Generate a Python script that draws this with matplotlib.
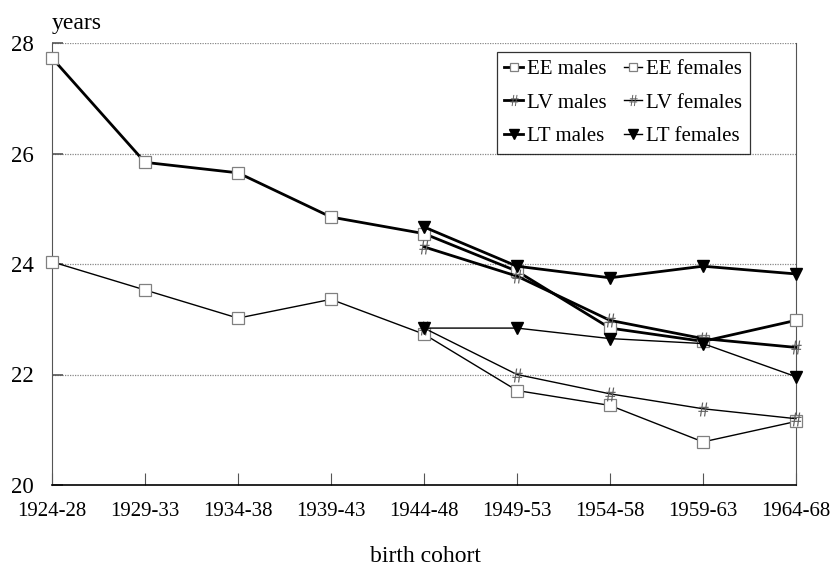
import matplotlib
matplotlib.use("Agg")
import matplotlib.pyplot as plt

# ===== data =====
cohorts = ["1924-28", "1929-33", "1934-38", "1939-43", "1944-48",
           "1949-53", "1954-58", "1959-63", "1964-68"]

ee_males = [27.73, 25.84, 25.65, 24.85, 24.55, 23.87, 22.84, 22.60, 22.98]
ee_females = [24.04, 23.53, 23.02, 23.36, 22.73, 21.71, 21.44, 20.78, 21.15]

# LV / LT only from 1944-48 on
lv_males = [24.31, 23.78, 22.98, 22.65, 22.49]
lv_females = [22.84, 22.00, 21.65, 21.38, 21.20]
lt_males = [24.67, 23.96, 23.75, 23.96, 23.82]
lt_females = [22.84, 22.84, 22.65, 22.56, 21.96]

yticks = [20, 22, 24, 26, 28]

plt.rcParams["font.family"] = ["Liberation Serif", "DejaVu Serif"]
plt.rcParams["mathtext.fontset"] = "stix"

fig = plt.figure(figsize=(8.31, 5.66), dpi=100)
ax = fig.add_axes([52 / 831, 1 - 485 / 566, (796 - 52) / 831, (485 - 43) / 566])

x_all = list(range(len(cohorts)))
x_late = x_all[4:]

thick = 2.0
thin = 1.0
sq = dict(marker="s", markersize=8, markerfacecolor="white",
          markeredgecolor="#808080", markeredgewidth=0.9)
hs = dict(marker=r"$\#$", markersize=10, markerfacecolor="#606060",
          markeredgecolor="#606060", markeredgewidth=0.0)
tri = dict(marker="v", markersize=9, markerfacecolor="black",
           markeredgecolor="black")

ax.plot(x_all, ee_males, color="black", lw=thick, label="EE males", clip_on=False, zorder=3, **sq)
ax.plot(x_late, lv_males, color="black", lw=thick, label="LV males", clip_on=False, zorder=3, **hs)
ax.plot(x_late, lt_males, color="black", lw=thick, label="LT males", clip_on=False, zorder=3, **tri)
ax.plot(x_all, ee_females, color="black", lw=thin, label="EE females", clip_on=False, zorder=3, **sq)
ax.plot(x_late, lv_females, color="black", lw=thin, label="LV females", clip_on=False, zorder=3, **hs)
ax.plot(x_late, lt_females, color="black", lw=thin, label="LT females", clip_on=False, zorder=3, **tri)

ax.set_xlim(0, len(cohorts) - 1)
ax.set_ylim(20, 28)
ax.set_xticks(x_all)
ax.set_xticklabels(cohorts, fontsize=15)
ax.set_yticks(yticks)
ax.set_yticklabels([str(v) for v in yticks], fontsize=16.5)

for v in yticks[1:]:
    ax.axhline(v, color="#888888", lw=0.9, ls=(0, (1, 1)), zorder=1)

ax.spines["top"].set_visible(False)
ax.spines["left"].set_color("#555555")
ax.spines["right"].set_color("#555555")
ax.spines["bottom"].set_color("black")
ax.spines["bottom"].set_linewidth(1.2)

ax.tick_params(axis="x", direction="in", length=9, width=0.8, color="#555555", pad=12)
ax.tick_params(axis="y", direction="in", length=8, width=1.2, color="#555555", pad=13)

# axis titles
fig.text(425 / 831, 1 - 562 / 566, "birth cohort", fontsize=17, ha="center", va="baseline")
fig.text(52 / 831, 1 - 23 / 566, "years", fontsize=17, ha="left", va="center")

handles, labels = ax.get_legend_handles_labels()
leg = ax.legend(handles, labels, ncol=2, loc="upper left",
                bbox_to_anchor=(497 / 831, 1 - 52 / 566), bbox_transform=fig.transFigure,
                borderaxespad=0, fontsize=15, frameon=True, fancybox=False,
                edgecolor="black", handlelength=0.9, handletextpad=0.2,
                columnspacing=0.8, labelspacing=0.68, borderpad=0.35, markerscale=0.8)
leg.get_frame().set_linewidth(0.9)

fig.savefig("out.png", dpi=100)
